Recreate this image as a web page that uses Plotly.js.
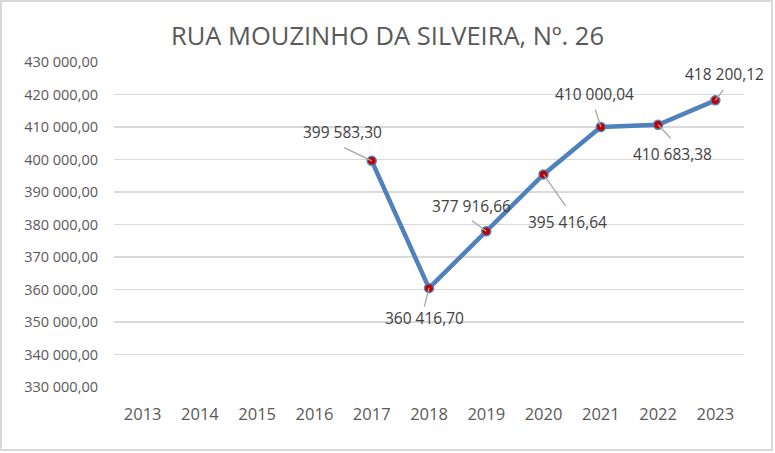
<!DOCTYPE html>
<html>
<head>
<meta charset="utf-8">
<script src="https://cdn.plot.ly/plotly-3.0.1.min.js"></script>
<style>
  html, body { margin: 0; padding: 0; background: #ffffff; }
  #wrap { position: relative; width: 775px; height: 453px; }
  #chart { position: absolute; left: 0; top: 0; width: 775px; height: 453px; }
  #frame { position: absolute; left: 0; top: 0; width: 769px; height: 447px;
           border: 2px solid #d9d9d9; pointer-events: none; }
</style>
</head>
<body>
<div id="wrap">
  <div id="chart"></div>
  <div id="frame"></div>
</div>
<script>
// Yearly values for the property (2013–2016 have no value)
const years = ["2013", "2014", "2015", "2016", "2017", "2018", "2019", "2020", "2021", "2022", "2023"];
const values = [null, null, null, null, 399583.30, 360416.70, 377916.66, 395416.64, 410000.04, 410683.38, 418200.12];
const yTicks = [330000, 340000, 350000, 360000, 370000, 380000, 390000, 400000, 410000, 420000, 430000];

// Pixel placement of each value label and the end of its leader line, relative to the point
const labelOffset = {
  "2017": [-29, -29], "2018": [-5, 30], "2019": [-15, -25], "2020": [23.5, 48],
  "2021": [-6, -33], "2022": [14, 29], "2023": [9, -26]
};
const leaderEnd = {
  "2017": [-29, -14], "2018": [-5, 20], "2019": [-16, -12], "2020": [23, 33],
  "2021": [-6, -19], "2022": [14, 15], "2023": [9, -12]
};

const FONT = "Open Sans, Noto Sans, sans-serif";

// Portuguese number format: space as thousands separator, comma for decimals
function fmtPT(v) {
  const parts = v.toFixed(2).split(".");
  const intPart = parts[0].replace(/\B(?=(\d{3})+(?!\d))/g, " ");
  return intPart + "," + parts[1];
}

// Annotations on a category axis are placed by category index
const annotations = [];
years.forEach((yr, i) => {
  const v = values[i];
  if (v === null) return;
  const le = leaderEnd[yr];
  annotations.push({
    x: i, y: v, xref: "x", yref: "y", text: "",
    showarrow: true, arrowhead: 0, arrowwidth: 1.3, arrowcolor: "#a6a6a6",
    ax: le[0], ay: le[1], standoff: 0, startstandoff: 0
  });
  const lo = labelOffset[yr];
  annotations.push({
    x: i, y: v, xref: "x", yref: "y", text: fmtPT(v),
    showarrow: false, xanchor: "center", yanchor: "middle",
    xshift: lo[0], yshift: -lo[1],
    font: { family: FONT, size: 15.5, color: "#404040" }
  });
});

const trace = {
  type: "scatter", mode: "lines+markers",
  x: years, y: values, connectgaps: false,
  line: { color: "#4f81bd", width: 4.5 },
  marker: { color: "#c00000", size: 9, line: { color: "#4f81bd", width: 1.5 } },
  hoverinfo: "skip"
};

const layout = {
  width: 775, height: 453,
  margin: { l: 114, r: 31, t: 62, b: 66 },
  paper_bgcolor: "#ffffff", plot_bgcolor: "#ffffff",
  separators: ", ",
  showlegend: false,
  title: {
    text: "RUA MOUZINHO DA SILVEIRA, Nº. 26",
    x: 0.5, xanchor: "center", xref: "container",
    y: 1 - 36 / 453, yanchor: "middle", yref: "container",
    font: { family: FONT, size: 25.5, color: "#595959" }
  },
  xaxis: {
    type: "category", categoryorder: "array", categoryarray: years,
    range: [-0.5, years.length - 0.5], autorange: false,
    showgrid: false, zeroline: false, showline: false,
    ticks: "outside", ticklen: 12, tickcolor: "rgba(0,0,0,0)",
    tickfont: { family: FONT, size: 16.5, color: "#595959" }
  },
  yaxis: {
    range: [330000, 430000], autorange: false, tickvals: yTicks, tickformat: ",.2f",
    showgrid: true, gridcolor: "#d9d9d9", gridwidth: 1.3,
    zeroline: false, showline: false,
    ticks: "", ticklabelstandoff: 15,
    tickfont: { family: FONT, size: 14.5, color: "#595959" }
  },
  annotations: annotations
};

Plotly.newPlot("chart", [trace], layout, { staticPlot: true, displayModeBar: false });
</script>
</body>
</html>
